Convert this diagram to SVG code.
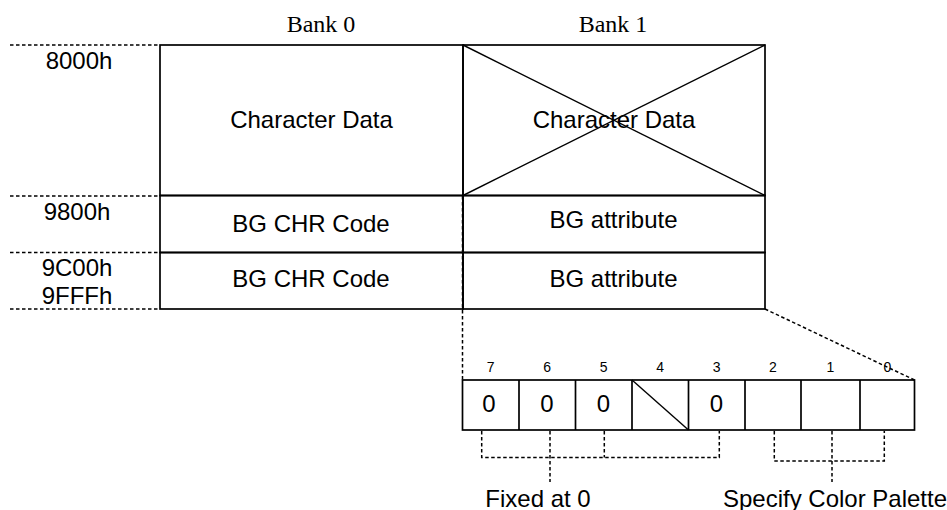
<svg xmlns="http://www.w3.org/2000/svg" width="947" height="510" viewBox="0 0 947 510">
<style>
.bg{fill:#fff}
.box{fill:none;stroke:#000;stroke-width:1.7}
.thin{fill:none;stroke:#000;stroke-width:1.4}
.dash{fill:none;stroke:#000;stroke-width:1.5;stroke-dasharray:3.5 2.5}
.t{font-family:"Liberation Sans",Arial,sans-serif;font-size:24px;fill:#000;text-anchor:middle}
.s{font-family:"Liberation Sans",Arial,sans-serif;font-size:14px;fill:#000;text-anchor:middle}
.h{font-family:"Liberation Serif","Times New Roman",serif;font-size:24px;fill:#000;text-anchor:middle}
</style>
<rect class="bg" x="0" y="0" width="947" height="510"/>
<g id="headers">
<text class="h" x="321" y="32">Bank 0</text>
<text class="h" x="613" y="32">Bank 1</text>
</g>
<g id="addresses">
<text class="t" x="79" y="69">8000h</text>
<text class="t" x="77" y="220">9800h</text>
<text class="t" x="77" y="276">9C00h</text>
<text class="t" x="77" y="304">9FFFh</text>
</g>
<g id="bank0-chr">
<rect class="box" x="160" y="45" width="303" height="150.5"/>
<text class="t" x="311.5" y="128">Character Data</text>
</g>
<g id="bank1-chr">
<rect class="box" x="463" y="45" width="302" height="150.5"/>
<line class="thin" x1="463" y1="45" x2="765" y2="195.5"/>
<line class="thin" x1="463" y1="195.5" x2="765" y2="45"/>
<text class="t" x="614" y="128">Character Data</text>
</g>
<g id="bank0-map1">
<rect class="box" x="160" y="195.5" width="303" height="57"/>
<text class="t" x="311" y="232">BG CHR Code</text>
</g>
<g id="bank1-map1">
<rect class="box" x="463" y="195.5" width="302" height="57"/>
<text class="t" x="613.5" y="228">BG attribute</text>
</g>
<g id="bank0-map2">
<rect class="box" x="160" y="252.5" width="303" height="56.5"/>
<text class="t" x="311" y="287">BG CHR Code</text>
</g>
<g id="bank1-map2">
<rect class="box" x="463" y="252.5" width="302" height="56.5"/>
<text class="t" x="613.5" y="287">BG attribute</text>
</g>
<g id="bits">
<rect class="box" x="462.5" y="380" width="452" height="50"/>
<line class="box" x1="519" y1="380" x2="519" y2="430"/>
<line class="box" x1="575.5" y1="380" x2="575.5" y2="430"/>
<line class="box" x1="632" y1="380" x2="632" y2="430"/>
<line class="box" x1="688.5" y1="380" x2="688.5" y2="430"/>
<line class="box" x1="745" y1="380" x2="745" y2="430"/>
<line class="box" x1="801" y1="380" x2="801" y2="430"/>
<line class="box" x1="860" y1="380" x2="860" y2="430"/>
<line class="thin" x1="632" y1="380" x2="688.5" y2="430"/>
<text class="s" x="490.7" y="372">7</text>
<text class="s" x="547.2" y="372">6</text>
<text class="s" x="603.7" y="372">5</text>
<text class="s" x="660.2" y="372">4</text>
<text class="s" x="716.7" y="372">3</text>
<text class="s" x="773" y="372">2</text>
<text class="s" x="830.5" y="372">1</text>
<text class="s" x="887.3" y="372">0</text>
<text class="t" x="489" y="412">0</text>
<text class="t" x="547" y="412">0</text>
<text class="t" x="603.5" y="412">0</text>
<text class="t" x="716.5" y="412">0</text>
</g>
<g id="labels">
<text class="t" x="538" y="507">Fixed at 0</text>
<text class="t" x="835" y="507">Specify Color Palette</text>
</g>
<g id="connectors">
<line class="dash" x1="10" y1="45" x2="160" y2="45"/>
<line class="dash" x1="10" y1="196" x2="160" y2="196"/>
<line class="dash" x1="10" y1="252.5" x2="160" y2="252.5"/>
<line class="dash" x1="10" y1="309" x2="160" y2="309"/>
<line class="dash" x1="462.5" y1="196" x2="462.5" y2="380"/>
<line class="dash" x1="765" y1="309" x2="914.5" y2="380"/>
<polyline class="dash" points="481.7,431 481.7,457.5 719.3,457.5 719.3,431"/>
<line class="dash" x1="550" y1="431" x2="550" y2="482"/>
<line class="dash" x1="604.3" y1="431" x2="604.3" y2="457.5"/>
<polyline class="dash" points="774.3,431 774.3,461 884.3,461 884.3,431"/>
<line class="dash" x1="832" y1="431" x2="832" y2="482"/>
</g>
</svg>
